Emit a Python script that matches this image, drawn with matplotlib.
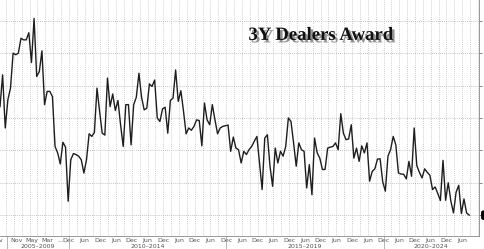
import numpy as np
import matplotlib
matplotlib.use("Agg")
import matplotlib.pyplot as plt
import matplotlib.patheffects as pe

# 3Y auction dealer award (%), one value per auction
award = [
    5.35, 6.33, 4.69, 5.56, 5.92, 7.00, 6.95, 7.00, 7.46, 7.41, 7.41, 7.63, 6.71, 8.07, 6.28, 6.43,
    7.07, 5.41, 5.82, 5.82, 5.66, 4.12, 3.92, 3.58, 4.25, 4.10, 2.43, 3.71, 3.90, 3.87, 3.82,
    3.71, 3.30, 3.71, 4.51, 4.43, 4.55, 5.92, 5.20, 4.53, 4.47, 6.23, 5.35, 5.74, 5.23, 5.54,
    4.79, 4.12, 5.41, 5.41, 4.17, 5.41, 5.64, 6.38, 5.64, 5.25, 5.30, 6.05, 5.97, 6.17, 5.00,
    4.89, 5.28, 5.33, 4.53, 5.54, 5.61, 6.48, 5.51, 5.84, 5.21, 4.51, 4.69, 4.62, 4.74, 4.94,
    4.92, 4.14, 5.46, 4.94, 4.79, 5.41, 4.94, 4.51, 4.69, 4.74, 4.76, 4.78, 3.97, 4.41, 4.07,
    4.02, 3.61, 3.97, 3.87, 4.02, 4.12, 4.28, 4.43, 3.61, 2.79, 4.38, 4.48, 3.51, 2.89, 4.07,
    3.61, 3.97, 3.82, 4.12, 5.00, 4.89, 4.23, 3.51, 4.23, 4.02, 3.97, 2.84, 3.56, 2.63,
    4.38, 3.92, 3.76, 3.41, 3.41, 4.07, 4.10, 4.12, 4.23, 4.02, 5.13, 4.53, 4.33, 4.35, 4.79,
    3.76, 4.07, 3.66, 4.14, 3.92, 4.23, 3.05, 3.35, 3.43, 3.73, 3.74, 3.03, 2.74, 3.82, 4.02,
    4.43, 4.17, 3.30, 3.27, 3.26, 3.12, 3.66, 3.20, 4.69, 3.53, 3.32, 3.15, 3.43, 3.32, 3.23,
    2.79, 2.87, 2.67, 2.45, 3.69, 2.46, 3.00, 2.43, 2.07, 2.71, 2.92, 2.05, 2.50, 2.07, 2.00,
]

# axis labels
early_labels = ["v", "Nov", "May", "Mar", "..."]
early_pos = [0.4, 6.5, 12.2, 17.9, 22.9]
first_dec = 26.3
month_labels = ["Dec", "Jun"] * 13
groups = ["2005\u20132009", "2010\u20132014", "2015\u20132019", "2020\u20132024"]
group_edges = [2.7, 26.3, 86.3, 146.3, 182.8]
y_ticks = [2, 3, 4, 5, 6, 7, 8]

x = np.arange(len(award))
month_pos = [first_dec + 6 * i for i in range(len(month_labels))]

fig = plt.figure(figsize=(4.85, 2.49), dpi=100)
ax = fig.add_axes([0.0, 0.052, 0.988, 0.948])

ax.set_xlim(0, 182.8)
ax.set_ylim(1.355, 8.64)

# dotted grid
for gx in np.arange(first_dec - 24, 182.8, 3):
    ax.axvline(gx, color="#bdbdbd", lw=0.6, ls=(0, (1, 1.5)), zorder=0)
for gy in y_ticks:
    ax.axhline(gy, color="#b0b0b0", lw=0.6, ls=(0, (1, 1.5)), zorder=0)

ax.plot(x, award, color="#1e1e1e", lw=1.0, zorder=3)

for s in ["top", "left"]:
    ax.spines[s].set_visible(False)
ax.spines["right"].set_color("#888888")
ax.spines["bottom"].set_color("#888888")
ax.spines["right"].set_linewidth(0.6)
ax.spines["bottom"].set_linewidth(0.6)

# the last value tag sits over the "2" label
ax.yaxis.tick_right()
ax.set_yticks(y_ticks)
ax.set_yticklabels(["" if v == 2 else str(v) for v in y_ticks])
ax.tick_params(axis="y", labelsize=4.5, colors="#555555", length=2, width=0.5, pad=1)

ax.set_xticks(early_pos + month_pos)
ax.set_xticklabels(early_labels + month_labels)
ax.tick_params(axis="x", labelsize=4.5, colors="#555555", length=0, pad=1.5)

# group labels and separators under the month labels
for i, g in enumerate(groups):
    mid = (group_edges[i] + group_edges[i + 1]) / 2
    ax.text(mid, -0.043, g, transform=ax.get_xaxis_transform(), ha="center", va="center",
            fontsize=4.5, color="#555555", clip_on=False)
for e in group_edges[:-1]:
    ax.plot([e, e], [0, -0.06], transform=ax.get_xaxis_transform(), color="#999999",
            lw=0.5, clip_on=False)

# last value tag
ax.annotate("2.00", xy=(1.0, award[-1]), xycoords=("axes fraction", "data"),
            xytext=(3, 0), textcoords="offset points", fontsize=4.5, color="white",
            va="center", ha="left",
            bbox=dict(boxstyle="round,pad=0.25", fc="black", ec="black"))

ax.text(0.67, 0.85, "3Y Dealers Award", transform=ax.transAxes, ha="center", va="center",
        fontsize=13.5, fontweight="bold", family="Liberation Serif", color="#111111",
        path_effects=[pe.SimplePatchShadow(offset=(1.8, -1.8), shadow_rgbFace="#666666", alpha=0.7),
                      pe.Normal()])

fig.savefig("out.png", dpi=100)
